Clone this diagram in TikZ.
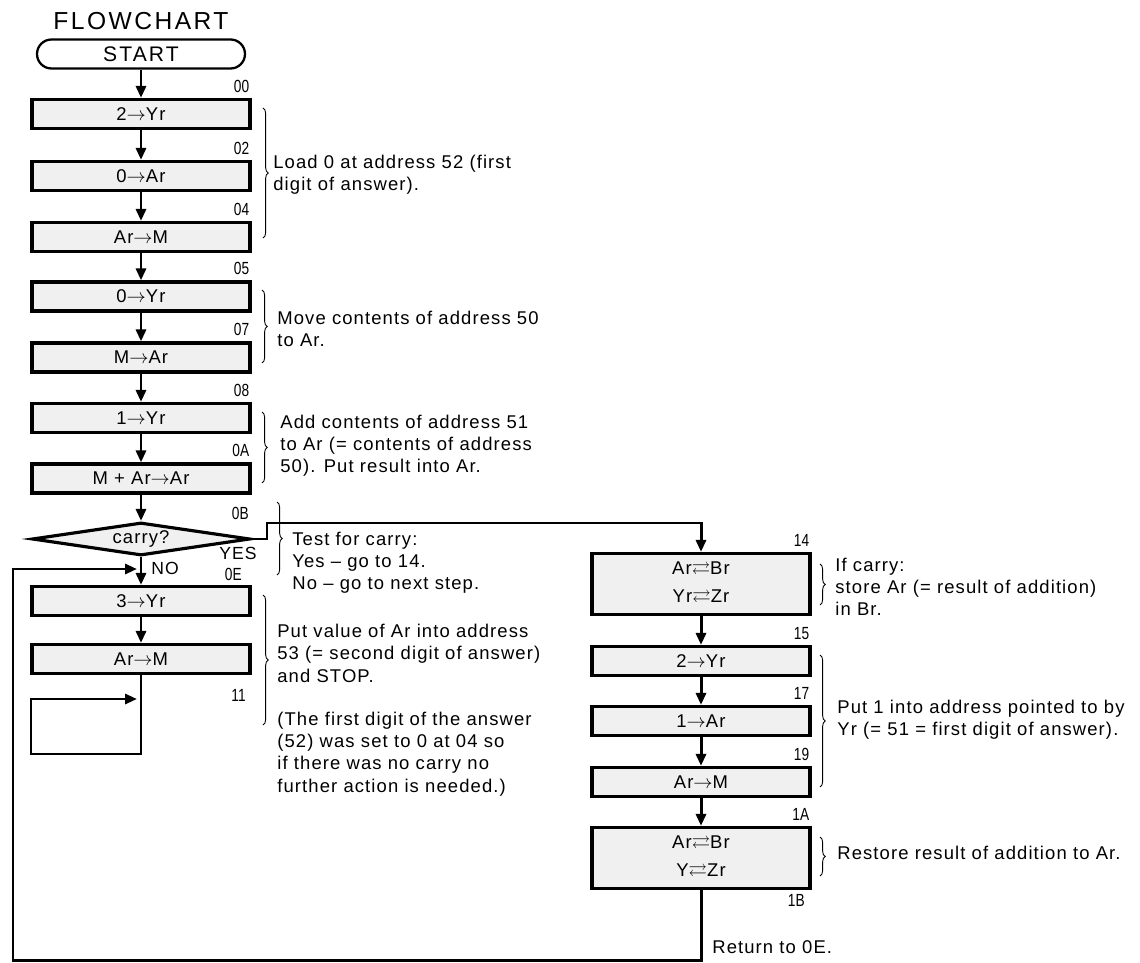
\documentclass[tikz,border=0pt]{standalone}
\usepackage{amssymb}
\usepackage{fontspec}
\setmainfont{Liberation Sans}
\newfontfamily\notefont[LetterSpace=6]{Liberation Sans}
\newfontfamily\headfont[LetterSpace=10]{Liberation Sans}
\newfontfamily\addrfont[FakeStretch=0.78]{Liberation Sans}
\usetikzlibrary{shapes.geometric,shapes.misc,arrows.meta,positioning,calc,decorations.pathreplacing}
\newcommand{\flowto}{$\rightarrow$}
\newcommand{\flowswap}{$\rightleftarrows$}

\begin{document}
\begin{tikzpicture}[
  proc/.style={rectangle,draw,line width=1.8pt,fill=black!6,minimum width=4.36cm,
             minimum height=0.58cm,inner sep=0pt,font=\notefont\fontsize{10.5}{12}\selectfont},
  proc2/.style={proc,minimum height=1.22cm,align=center},
  term/.style={rounded rectangle,draw,line width=1.3pt,minimum width=4.16cm,
             minimum height=0.58cm,inner sep=0pt,font=\headfont\fontsize{12}{14}\selectfont},
  dec/.style={diamond,draw,line width=1.8pt,fill=black!6,aspect=6,minimum width=4.36cm,
             minimum height=0.66cm,inner sep=0pt,font=\notefont\fontsize{10.5}{12}\selectfont},
  arr/.style={-{Triangle[length=2.4mm,width=2mm]},line width=1.7pt},
  brc/.style={decorate,decoration={brace,amplitude=3pt},line width=0.5pt},
  note/.style={anchor=west,align=left,inner sep=0pt,font=\notefont\fontsize{10.5}{12.6}\selectfont},
  addr/.style={inner sep=0pt,font=\addrfont\fontsize{10}{11}\selectfont},
  tag/.style={inner sep=0pt,font=\notefont\fontsize{10}{12}\selectfont}
]
\useasboundingbox (0,0) rectangle (22.8,-19.26);

% ---- TITLE ----
\node[font=\headfont\fontsize{14}{16}\selectfont] (title) at (2.82,-0.42) {FLOWCHART};
\node[term] (start) at (2.82,-1.08) {START};

% ---- MAIN COLUMN ----
\node[proc] (b00) at (2.82,-2.28)  {2\flowto Yr};
\node[proc] (b02) at (2.82,-3.52)  {0\flowto Ar};
\node[proc] (b04) at (2.82,-4.74)  {Ar\flowto M};
\node[proc] (b05) at (2.82,-5.93)  {0\flowto Yr};
\node[proc] (b07) at (2.82,-7.15)  {M\flowto Ar};
\node[proc] (b08) at (2.82,-8.36)  {1\flowto Yr};
\node[proc] (b0A) at (2.82,-9.57)  {M + Ar\flowto Ar};
\node[dec]  (carry) at (2.82,-10.78) {carry?};
\node[proc] (b0E) at (2.82,-12.02) {3\flowto Yr};
\node[proc] (b10) at (2.82,-13.18) {Ar\flowto M};

% ---- CARRY COLUMN ----
\node[proc2] (b14) at (14.02,-11.68) {Ar\flowswap Br\\[4pt]Yr\flowswap Zr};
\node[proc]  (b15) at (14.02,-13.22) {2\flowto Yr};
\node[proc]  (b17) at (14.02,-14.42) {1\flowto Ar};
\node[proc]  (b19) at (14.02,-15.64) {Ar\flowto M};
\node[proc2] (b1A) at (14.02,-17.16) {Ar\flowswap Br\\[4pt]Y\flowswap Zr};

% ---- ADDRESSES ----
\foreach \b/\t in {b00/00,b02/02,b04/04,b05/05,b07/07,b08/08,b0A/0A,
                   b14/14,b15/15,b17/17,b19/19,b1A/1A}
  \node[addr,above left=0.1cm and 0.04cm of \b.north east] (a\b) {\t};
\node[addr,anchor=east] (a0B) at (4.98,-10.26) {0B};
\node[addr,anchor=east] (a0E) at (4.84,-11.48) {0E};
\node[addr,anchor=east] (a11) at (4.92,-13.90) {11};
\node[addr,anchor=east] (a1B) at (16.10,-18.00) {1B};
\node[tag] (yes) at (4.76,-11.06) {YES};
\node[tag,anchor=west] (no) at (3.02,-11.36) {NO};

% ---- FLOW ----
\foreach \a/\b in {start/b00,b00/b02,b02/b04,b04/b05,b05/b07,b07/b08,b08/b0A,b0A/carry,
                   carry/b0E,b0E/b10,b14/b15,b15/b17,b17/b19,b19/b1A}
  \draw[arr] (\a.south) -- (\b.north);

% yes branch
\coordinate (yesturn) at (5.34,-10.46);
\draw[arr] (carry.east) -| (yesturn) -| (b14.north);

% stop loop
\coordinate (stopleft) at (0.62,-15.08);
\coordinate (stopup)   at (0.62,-13.98);
\coordinate (stoptip)  at (2.74,-13.98);
\draw[arr] (b10.south) |- (stopleft) -- (stopup) -- (stoptip);

% return to 0E
\coordinate (retcorner) at (0.26,-19.2);
\coordinate (loopup)    at (0.26,-11.38);
\coordinate (noin)      at (2.74,-11.38);
\draw[arr] (b1A.south) |- (retcorner) -- (loopup) -- (noin);

% ---- BRACES ----
\draw[brc] (5.26,-2.16)  -- (5.26,-4.76);
\draw[brc] (5.24,-5.80)  -- (5.24,-7.26);
\draw[brc] (5.24,-8.24)  -- (5.24,-9.66);
\draw[brc] (5.54,-10.04) -- (5.54,-11.50);
\draw[brc] (5.26,-11.90) -- (5.26,-14.50);
\draw[brc] (16.40,-11.28) -- (16.40,-12.10);
\draw[brc] (16.40,-13.10) -- (16.40,-15.74);
\draw[brc] (16.40,-16.74) -- (16.40,-17.52);

% ---- NOTES ----
\node[note] (n1) at (5.46,-3.50) {Load 0 at address 52 (first\\digit of answer).};
\node[note] (n2) at (5.54,-6.58) {Move contents of address 50\\to Ar.};
\node[note] (n3) at (5.60,-8.92) {Add contents of address 51\\to Ar (= contents of address\\50). Put result into Ar.};
\node[note] (n4) at (5.84,-11.26) {Test for carry:\\Yes \textendash{} go to 14.\\No \textendash{} go to next step.};
\node[note,anchor=north west] (n5) at (5.54,-12.48)
  {Put value of Ar into address\\53 (= second digit of answer)\\and STOP.\\[0.43cm]
   (The first digit of the answer\\(52) was set to 0 at 04 so\\if there was no carry no\\further action is needed.)};
\node[note] (n6) at (16.70,-11.74) {If carry:\\store Ar (= result of addition)\\in Br.};
\node[note] (n7) at (16.74,-14.40) {Put 1 into address pointed to by\\Yr (= 51 = first digit of answer).};
\node[note] (n8) at (16.74,-17.06) {Restore result of addition to Ar.};
\node[note] (n9) at (14.24,-18.94) {Return to 0E.};

\end{tikzpicture}
\end{document}
